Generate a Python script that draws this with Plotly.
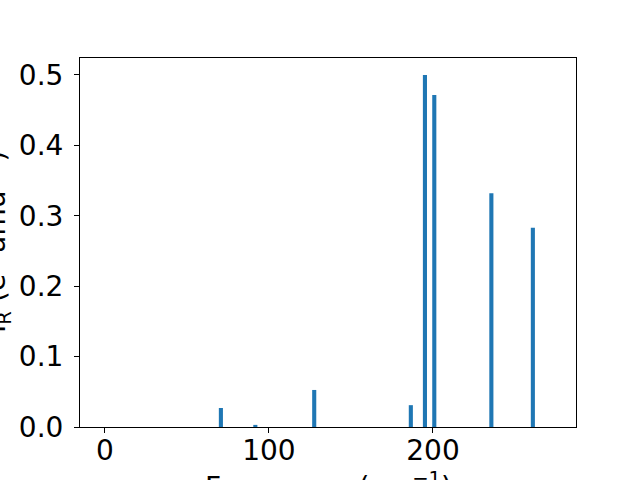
import plotly.graph_objects as go

frequencies = [70.7, 91.7, 127.6, 186.5, 195.1, 200.8, 235.6, 260.9]
intensities = [0.027, 0.003, 0.0526, 0.031, 0.500, 0.4716, 0.332, 0.283]
x_ticks = [0, 100, 200]
y_ticks = [0.0, 0.1, 0.2, 0.3, 0.4, 0.5]

fig = go.Figure(go.Bar(x=frequencies, y=intensities, width=2.5,
                       marker=dict(color="#1f77b4", line=dict(width=0))))

font = dict(family="DejaVu Sans", size=28, color="black")
axis_common = dict(showline=True, mirror=True, linecolor="black", linewidth=1,
                   ticks="outside", ticklen=5, tickcolor="black", tickwidth=1,
                   showgrid=False, zeroline=False, tickfont=font, automargin=False)
fig.update_xaxes(range=[-15.2, 287.2], tickvals=x_ticks, ticklabelstandoff=-7, **axis_common)
fig.update_yaxes(range=[0, 0.524], tickvals=y_ticks, tickformat=".1f", ticklabelstandoff=5,
                 **axis_common)

fig.update_layout(
    width=640, height=480, plot_bgcolor="white", paper_bgcolor="white",
    margin=dict(l=80, r=64, t=58, b=53), showlegend=False,
    annotations=[
        dict(text="Frequency (cm<sup>−1</sup>)", xref="paper", yref="paper",
             x=0.5, y=0, yshift=-38, xanchor="center", yanchor="top",
             showarrow=False, font=font),
        dict(text="I<sub>R</sub> (e<sup>2</sup> amu<sup>−1</sup>)", xref="paper", yref="paper",
             x=0, y=0.5, xshift=-62, xanchor="right", yanchor="middle",
             textangle=-90, showarrow=False, font=font),
    ],
)
fig.write_html("out.html", config={"displayModeBar": False},
               post_script="document.body.style.margin='0';document.body.style.overflow='hidden';")
